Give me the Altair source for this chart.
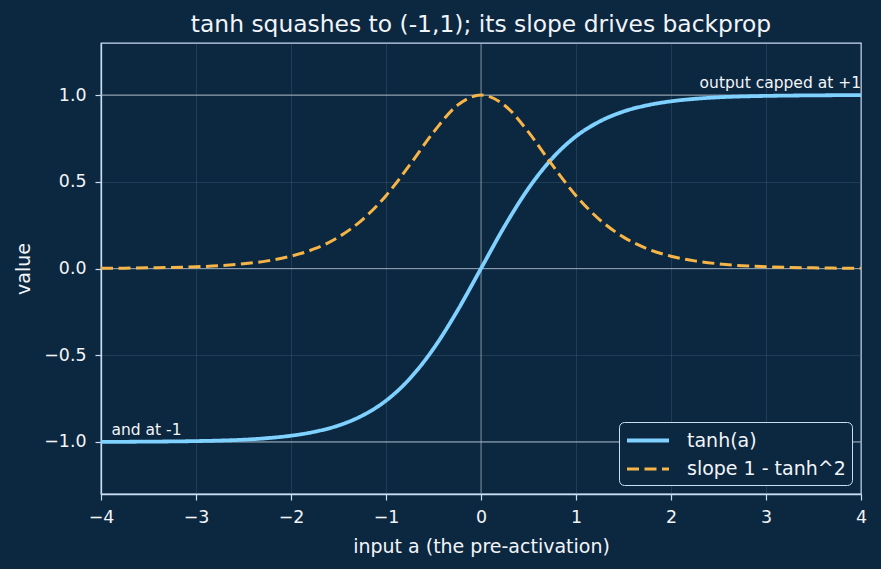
import altair as alt
import pandas as pd

a_vals = [-4.0, -3.75, -3.5, -3.25, -3.0, -2.75, -2.5, -2.25, -2.0, -1.75, -1.5, -1.25, -1.0, -0.75, -0.5, -0.25,
          0.0, 0.25, 0.5, 0.75, 1.0, 1.25, 1.5, 1.75, 2.0, 2.25, 2.5, 2.75, 3.0, 3.25, 3.5, 3.75, 4.0]
tanh_vals = [-0.999, -0.999, -0.998, -0.997, -0.995, -0.992, -0.987, -0.978, -0.964, -0.941, -0.905, -0.848,
             -0.762, -0.635, -0.462, -0.245, 0.0, 0.245, 0.462, 0.635, 0.762, 0.848, 0.905, 0.941, 0.964,
             0.978, 0.987, 0.992, 0.995, 0.997, 0.998, 0.999, 0.999]
slope_vals = [0.001, 0.002, 0.004, 0.006, 0.010, 0.016, 0.027, 0.044, 0.071, 0.114, 0.181, 0.281, 0.420,
              0.597, 0.786, 0.940, 1.0, 0.940, 0.786, 0.597, 0.420, 0.281, 0.181, 0.114, 0.071, 0.044,
              0.027, 0.016, 0.010, 0.006, 0.004, 0.002, 0.001]
series_names = ["tanh(a)", "slope 1 - tanh^2"]
ref_y = [-1.0, 0.0, 1.0]
ref_x = [0.0]
x_ticks = [-4, -3, -2, -1, 0, 1, 2, 3, 4]
y_ticks = [-1.0, -0.5, 0.0, 0.5, 1.0]
notes = ["output capped at +1", "and at -1"]
note_x = [4.0, -3.89]
note_y = [1.043, -0.96]
note_align = ["right", "left"]

BG = "#0c2740"
AX = "#c9def2"
TXT = "#f2f5f8"
FONT = "DejaVu Sans"

rows = []
for a, t in zip(a_vals, tanh_vals):
    rows.append({"a": a, "v": t, "s": series_names[0]})
for a, d in zip(a_vals, slope_vals):
    rows.append({"a": a, "v": d, "s": series_names[1]})
df = pd.DataFrame(rows)

xs = alt.Scale(domain=[-4, 4], nice=False, zero=False)
ys = alt.Scale(domain=[-1.3, 1.3], nice=False, zero=False)

common = dict(grid=True, gridColor="#5a7690", gridOpacity=0.35, gridWidth=0.8,
              domainColor=AX, domainWidth=1.3, tickColor=AX, tickSize=6, tickWidth=1.2,
              labelColor=TXT, labelFontSize=17.4, labelFont=FONT, labelFlush=False, labelOverlap=False,
              titleColor=TXT, titleFontSize=19, titleFont=FONT, titleFontWeight="normal")
xaxis = alt.Axis(values=x_ticks, format="d", title="input a (the pre-activation)",
                 labelPadding=8, titlePadding=12, **common)
yaxis = alt.Axis(values=y_ticks, format=".1f", title="value",
                 labelPadding=9, titlePadding=10, **common)

hrules = alt.Chart(pd.DataFrame({"y": ref_y})).mark_rule(color="#a9b6c4", strokeWidth=1.2, opacity=0.8).encode(
    y=alt.Y("y:Q", scale=ys, axis=yaxis))
vrules = alt.Chart(pd.DataFrame({"x": ref_x})).mark_rule(color="#a9b6c4", strokeWidth=1.2, opacity=0.55).encode(
    x=alt.X("x:Q", scale=xs, axis=xaxis))

lines = alt.Chart(df).mark_line(interpolate="monotone").encode(
    x=alt.X("a:Q", scale=xs, axis=xaxis),
    y=alt.Y("v:Q", scale=ys, axis=yaxis),
    color=alt.Color("s:N", scale=alt.Scale(domain=series_names, range=["#7fd1ff", "#f6b546"]),
                    legend=alt.Legend(title=None, orient="bottom-right", offset=9,
                                      labelColor=TXT, labelFontSize=19, labelFont=FONT,
                                      symbolType="M-1,0H3", symbolSize=441, symbolStrokeWidth=3.5,
                                      strokeColor=AX, fillColor=BG, cornerRadius=5, padding=6,
                                      rowPadding=6, labelOffset=37)),
    strokeDash=alt.StrokeDash("s:N", scale=alt.Scale(domain=series_names, range=[[1, 0], [12, 5.5]]), legend=None),
    strokeWidth=alt.StrokeWidth("s:N", scale=alt.Scale(domain=series_names, range=[3.8, 3.0]), legend=None),
    order=alt.Order("a:Q"),
)

ndf = pd.DataFrame({"t": notes, "x": note_x, "y": note_y, "al": note_align})
note_r = alt.Chart(ndf[ndf.al == "right"]).mark_text(align="right", baseline="alphabetic", color=TXT, fontSize=15.5,
                                                      font=FONT).encode(
    x=alt.X("x:Q", scale=xs), y=alt.Y("y:Q", scale=ys), text="t:N")
note_l = alt.Chart(ndf[ndf.al == "left"]).mark_text(align="left", baseline="alphabetic", color=TXT, fontSize=15.5,
                                                     font=FONT).encode(
    x=alt.X("x:Q", scale=xs), y=alt.Y("y:Q", scale=ys), text="t:N")

chart = alt.layer(hrules, vrules, lines, note_r, note_l).properties(
    width=760, height=451,
    title=alt.Title("tanh squashes to (-1,1); its slope drives backprop", color=TXT, fontSize=23.4,
                    font=FONT, fontWeight="normal", offset=5),
    autosize=alt.AutoSizeParams(type="none"),
    padding={"left": 101, "top": 43, "right": 20, "bottom": 75},
    background=BG,
).configure_view(stroke=AX, strokeWidth=1.3)

chart.save("out.html", embed_options={"renderer": "svg", "actions": False})
